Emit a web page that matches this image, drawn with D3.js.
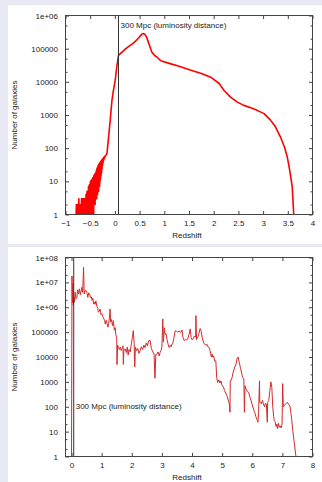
<!DOCTYPE html>
<html>
<head>
<meta charset="utf-8">
<script src="https://cdn.jsdelivr.net/npm/d3@7"></script>
<style>
  html, body { margin: 0; padding: 0; background: #e9e9f5; }
  svg { display: block; }
  text { font-family: "Liberation Sans", Arial, sans-serif; font-size: 8px; fill: #222; }
</style>
</head>
<body>
<div class="container"></div>
<script>
// redshift of the 300 Mpc marker line
const markerZ = 0.073;
const markerLabel = '300 Mpc (luminosity distance)';

// top panel: ticks
const topXTicks = [-1, -0.5, 0, 0.5, 1, 1.5, 2, 2.5, 3, 3.5, 4];
const topYTicks = [1, 10, 100, 1000, 10000, 100000, 1e6];
const topYLabels = ['1', '10', '100', '1000', '10000', '100000', '1e+06'];

// bottom panel: ticks
const botXTicks = [0, 1, 2, 3, 4, 5, 6, 7, 8];
const botYTicks = [1, 10, 100, 1000, 1e4, 1e5, 1e6, 1e7, 1e8];
const botYLabels = ['1', '10', '100', '1000', '10000', '100000', '1e+06', '1e+07', '1e+08'];

// top panel: noisy low-count tail [redshift, galaxies]
const topTail = [
  [-0.785, 1], [-0.78, 2], [-0.775, 1], [-0.76, 1], [-0.755, 2], [-0.75, 1], [-0.735, 1], [-0.73, 3], [-0.725, 1],
  [-0.7, 1], [-0.695, 2], [-0.69, 1], [-0.68, 1], [-0.675, 3], [-0.67, 1],
  [-0.665, 2], [-0.66, 1], [-0.655, 3], [-0.65, 1], [-0.645, 2], [-0.64, 1], [-0.635, 3], [-0.63, 1], [-0.625, 2],
  [-0.62, 1], [-0.615, 3], [-0.61, 1], [-0.605, 2], [-0.6, 1], [-0.595, 3], [-0.59, 1], [-0.585, 4], [-0.58, 1],
  [-0.575, 3], [-0.57, 1], [-0.565, 5], [-0.56, 1], [-0.555, 4], [-0.55, 1], [-0.545, 5], [-0.54, 2], [-0.535, 7],
  [-0.53, 1], [-0.525, 6], [-0.52, 2], [-0.515, 8], [-0.51, 1], [-0.505, 7], [-0.5, 2], [-0.495, 10], [-0.49, 1],
  [-0.485, 9], [-0.48, 2], [-0.475, 11], [-0.47, 1], [-0.465, 10], [-0.46, 2], [-0.455, 12], [-0.45, 1], [-0.445, 13],
  [-0.44, 2], [-0.435, 12], [-0.43, 1], [-0.425, 15], [-0.42, 2], [-0.415, 14], [-0.41, 3], [-0.405, 17], [-0.4, 2],
  [-0.395, 16], [-0.39, 3], [-0.385, 19], [-0.38, 4], [-0.375, 21], [-0.37, 3], [-0.365, 24], [-0.36, 5], [-0.355, 26],
  [-0.35, 4], [-0.345, 28], [-0.34, 6], [-0.335, 31], [-0.33, 5], [-0.325, 33], [-0.32, 8], [-0.315, 34], [-0.31, 7],
  [-0.305, 36], [-0.3, 10], [-0.295, 38], [-0.29, 12], [-0.285, 40], [-0.28, 15], [-0.275, 42], [-0.27, 18],
  [-0.265, 44], [-0.26, 24], [-0.255, 46], [-0.25, 30], [-0.245, 48], [-0.24, 36], [-0.235, 50], [-0.23, 42],
  [-0.225, 53], [-0.22, 47], [-0.21, 56], [-0.2, 54], [-0.19, 60], [-0.18, 62]
];

// top panel: main distribution [redshift, galaxies]
const topCurve = [
  [-0.16, 70], [-0.13, 200], [-0.095, 690], [-0.06, 2750], [-0.03, 5500], [0.006, 11000], [0.04, 30000],
  [0.073, 63000], [0.15, 80000], [0.22, 100000], [0.31, 126000], [0.38, 150000], [0.44, 182000], [0.5, 230000],
  [0.55, 275000], [0.58, 285000], [0.61, 270000], [0.645, 215000], [0.7, 126000], [0.746, 79000], [0.8, 63000],
  [0.85, 56000], [0.93, 43000], [1.1, 36000], [1.3, 29500], [1.54, 22400], [1.75, 17800], [1.94, 13800],
  [2.11, 8900], [2.21, 5500], [2.34, 3470], [2.48, 2450], [2.61, 1950], [2.75, 1660], [2.88, 1380], [3.02, 1100],
  [3.15, 700], [3.25, 440], [3.35, 220], [3.43, 110], [3.49, 54], [3.54, 21], [3.59, 6.8], [3.62, 1]
];

// bottom panel [redshift, galaxies]
const bottomSeries = [
  [0.0, 1], [0.015, 1.8e7], [0.03, 1.5e6], [0.045, 9e6], [0.06, 1.2e6], [0.08, 2.5e6], [0.1, 1.6e6], [0.12, 4e6],
  [0.15, 2.2e6], [0.18, 2.5e6], [0.2, 5e6], [0.23, 3.5e6], [0.26, 5.5e6], [0.29, 3.2e6], [0.32, 4.5e6], [0.34, 6.3e6],
  [0.37, 4e6], [0.4, 4e7], [0.42, 3.4e6], [0.45, 4.7e6], [0.49, 4.5e6], [0.52, 3.5e6], [0.54, 2.5e6], [0.57, 3.8e6],
  [0.6, 3.4e6], [0.63, 2.4e6], [0.66, 2.6e6], [0.68, 1.9e6], [0.71, 2.3e6], [0.73, 1.35e6], [0.76, 1.6e6],
  [0.78, 1.3e6], [0.81, 1.8e6], [0.84, 1.1e6], [0.87, 9e5], [0.89, 6.3e5], [0.92, 7e5], [0.95, 8.5e5], [0.98, 5e5],
  [1.01, 5.5e5], [1.04, 4.2e5], [1.07, 3.5e5], [1.1, 2.9e5], [1.12, 2.1e5], [1.15, 3e5], [1.18, 2.2e5], [1.21, 1.6e5],
  [1.23, 2.1e5], [1.26, 4e5], [1.28, 8.5e5], [1.3, 2.5e5], [1.33, 3.2e5], [1.36, 1.8e5], [1.39, 2.9e5], [1.42, 1.2e5],
  [1.45, 1.5e5], [1.47, 8e4], [1.5, 6e4], [1.51, 5e3], [1.53, 3e4], [1.56, 2.4e4], [1.59, 2e4], [1.62, 2.5e4],
  [1.65, 1.8e4], [1.68, 2.2e4], [1.71, 2.8e4], [1.72, 5e3], [1.74, 2e4], [1.78, 2.1e4], [1.82, 1.5e4], [1.85, 2.5e4],
  [1.88, 1.2e4], [1.91, 2e4], [1.95, 1.6e4], [1.98, 3e4], [2.02, 6e4], [2.05, 1.15e5], [2.08, 3.5e4], [2.1, 4e3],
  [2.12, 2.5e4], [2.16, 1.8e4], [2.2, 2.2e4], [2.24, 1.4e4], [2.28, 1.8e4], [2.32, 2.6e4], [2.36, 2e4], [2.4, 3e4],
  [2.44, 2.4e4], [2.48, 3.6e4], [2.52, 2.8e4], [2.56, 4.5e4], [2.61, 4.6e4], [2.65, 2.2e4], [2.7, 1.6e4],
  [2.74, 1.3e4], [2.77, 1.4e3], [2.8, 1.3e4], [2.83, 1.3e4], [2.87, 1.6e4], [2.91, 1.1e4], [2.94, 1.5e4],
  [2.97, 1.8e4], [3.0, 2.5e4], [3.03, 3.4e5], [3.05, 4e4], [3.08, 1.5e5], [3.11, 8e4], [3.14, 8.5e4], [3.17, 5e4],
  [3.2, 3.5e4], [3.23, 2.5e4], [3.25, 2.4e4], [3.28, 3e4], [3.31, 2.6e4], [3.34, 3.4e4], [3.36, 3.4e4], [3.4, 6e4],
  [3.44, 1.1e5], [3.47, 1.15e5], [3.52, 1e5], [3.57, 1.1e5], [3.63, 9.8e4], [3.67, 1.2e5], [3.7, 6e4], [3.74, 4.6e4],
  [3.78, 5e4], [3.82, 4.8e4], [3.86, 5.4e4], [3.9, 8e4], [3.94, 1.35e5], [3.97, 6e4], [4.0, 5e4], [4.04, 5.4e4],
  [4.08, 7e4], [4.12, 6.2e4], [4.13, 4.6e5], [4.15, 5e4], [4.19, 6.2e4], [4.23, 9e4], [4.27, 1.4e5], [4.3, 1.15e5],
  [4.34, 6e4], [4.38, 4e4], [4.41, 3.4e4], [4.45, 3e4], [4.5, 3.2e4], [4.54, 2.5e4], [4.57, 2.4e4], [4.61, 1.6e4],
  [4.64, 1e4], [4.67, 1.3e4], [4.69, 9.8e3], [4.72, 1.1e4], [4.75, 7e3], [4.79, 7e3], [4.82, 1.5e3], [4.85, 950],
  [4.89, 1.2e3], [4.93, 900], [4.96, 1.1e3], [5.0, 700], [5.04, 650], [5.08, 450], [5.13, 330], [5.17, 260],
  [5.21, 170], [5.24, 130], [5.26, 60], [5.27, 1.1e3], [5.29, 1.1e3], [5.33, 1.5e3], [5.37, 2.5e3], [5.42, 4e3],
  [5.46, 5e3], [5.5, 9e3], [5.53, 1e4], [5.57, 6e3], [5.61, 3.5e3], [5.64, 2.5e3], [5.68, 1.5e3], [5.72, 1.3e3],
  [5.74, 60], [5.76, 700], [5.8, 500], [5.84, 400], [5.88, 380], [5.92, 250], [5.96, 180], [6.0, 120], [6.04, 80],
  [6.08, 60], [6.12, 40], [6.16, 30], [6.19, 24], [6.21, 60], [6.24, 1.1e3], [6.25, 150], [6.28, 150], [6.3, 130],
  [6.34, 180], [6.37, 130], [6.41, 100], [6.44, 140], [6.47, 120], [6.5, 24], [6.51, 150], [6.55, 180], [6.58, 400],
  [6.62, 1e3], [6.65, 600], [6.68, 100], [6.71, 40], [6.73, 28], [6.76, 25], [6.79, 16], [6.82, 20], [6.84, 13],
  [6.87, 22], [6.9, 15], [6.93, 17], [6.96, 14], [6.99, 20], [7.01, 850], [7.03, 100], [7.06, 110], [7.1, 130],
  [7.14, 140], [7.17, 150], [7.21, 120], [7.25, 110], [7.28, 60], [7.31, 30], [7.35, 10], [7.39, 4], [7.42, 2],
  [7.45, 1]
];

const W = 322, H = 482;

const svg = d3.select('.container')
    .append('svg')
    .attr('width', W)
    .attr('height', H);

function drawPanel(opts) {
    const {panelY, panelH, xDomain, xTicks, yMax, yTicks, yLabels, series, labelAt, lineColor, lineWidth, id} = opts;
    const left = 65.5, right = 312.5;
    const top = panelY + 10.5, bottom = panelY + 209.5;

    // white panel
    svg.append('rect')
        .attr('x', 8).attr('y', panelY)
        .attr('width', W - 8).attr('height', panelH)
        .attr('fill', '#fff');

    const x = d3.scaleLinear().domain(xDomain).range([left, right]);
    const y = d3.scaleLog().domain([1, yMax]).range([bottom, top]);

    // minor ticks at 2 and 5 of every decade
    const minor = [];
    yTicks.slice(0, -1).forEach(t => { minor.push(t * 2, t * 5); });

    const g = svg.append('g');

    // bottom axis with labels, ticks inward
    g.append('g')
        .attr('transform', `translate(0,${bottom})`)
        .call(d3.axisBottom(x).tickValues(xTicks).tickSize(-3.5).tickSizeOuter(0).tickPadding(6)
            .tickFormat(d3.format('')));
    // mirrored top ticks
    g.append('g')
        .attr('transform', `translate(0,${top})`)
        .call(d3.axisTop(x).tickValues(xTicks).tickSize(-3.5).tickSizeOuter(0).tickFormat(''));
    // left axis
    g.append('g')
        .attr('transform', `translate(${left},0)`)
        .call(d3.axisLeft(y).tickValues(yTicks).tickSize(-3.5).tickSizeOuter(0).tickPadding(7.5)
            .tickFormat((d, i) => yLabels[i]));
    g.append('g')
        .attr('transform', `translate(${left},0)`)
        .call(d3.axisLeft(y).tickValues(minor).tickSize(-2).tickSizeOuter(0).tickFormat(''));
    // right axis (mirror)
    g.append('g')
        .attr('transform', `translate(${right},0)`)
        .call(d3.axisRight(y).tickValues(yTicks).tickSize(-3.5).tickSizeOuter(0).tickFormat(''));
    g.append('g')
        .attr('transform', `translate(${right},0)`)
        .call(d3.axisRight(y).tickValues(minor).tickSize(-2).tickSizeOuter(0).tickFormat(''));

    g.selectAll('.domain').remove();
    g.selectAll('.tick line').attr('stroke', '#444');
    g.selectAll('.tick text').attr('fill', '#222').style('font-size', '8px')
        .style('font-family', '"Liberation Sans", Arial, sans-serif');

    // data line, clipped to plot box
    svg.append('clipPath').attr('id', id)
        .append('rect')
        .attr('x', left).attr('y', top)
        .attr('width', right - left).attr('height', bottom - top);

    const line = d3.line()
        .x(d => x(d[0]))
        .y(d => y(d[1]));

    svg.append('path')
        .datum(series)
        .attr('clip-path', `url(#${id})`)
        .attr('fill', 'none')
        .attr('stroke', lineColor)
        .attr('stroke-width', lineWidth)
        .attr('stroke-linejoin', 'round')
        .attr('d', line);

    // 300 Mpc marker
    svg.append('line')
        .attr('x1', x(markerZ)).attr('x2', x(markerZ))
        .attr('y1', top).attr('y2', bottom)
        .attr('stroke', '#333')
        .attr('stroke-width', 1);

    svg.append('text')
        .attr('x', x(markerZ) + 2)
        .attr('y', y(labelAt))
        .attr('dy', '0.32em')
        .text(markerLabel);

    // frame
    svg.append('rect')
        .attr('x', left).attr('y', top)
        .attr('width', right - left).attr('height', bottom - top)
        .attr('fill', 'none')
        .attr('stroke', '#444')
        .attr('stroke-width', 1);

    // axis titles
    svg.append('text')
        .attr('x', 187)
        .attr('y', panelY + 233)
        .attr('text-anchor', 'middle')
        .text('Redshift');

    svg.append('text')
        .attr('transform', `translate(17,${(top + bottom) / 2}) rotate(-90)`)
        .attr('text-anchor', 'middle')
        .text('Number of galaxies');
}

drawPanel({
    id: 'clipTop', panelY: 5, panelH: 239,
    xDomain: [-1, 4], xTicks: topXTicks,
    yMax: 1e6, yTicks: topYTicks, yLabels: topYLabels,
    series: topTail.concat(topCurve), labelAt: 5e5,
    lineColor: '#ff0000', lineWidth: 1.6
});

drawPanel({
    id: 'clipBottom', panelY: 247, panelH: 235,
    xDomain: [-0.2, 8], xTicks: botXTicks,
    yMax: 1e8, yTicks: botYTicks, yLabels: botYLabels,
    series: bottomSeries, labelAt: 100,
    lineColor: '#d42a2a', lineWidth: 1
});
</script>
</body>
</html>
